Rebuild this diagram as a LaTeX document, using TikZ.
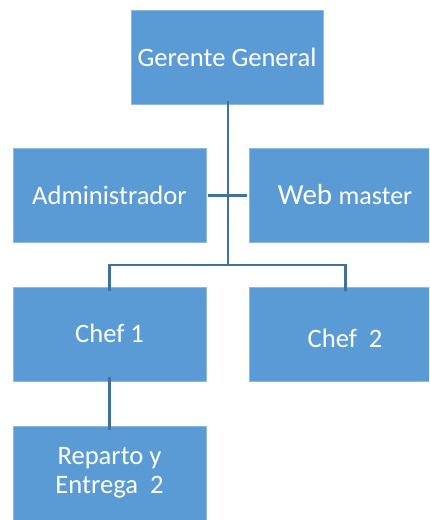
\documentclass[tikz,border=0pt]{standalone}
\usepackage{fontspec}
\setmainfont{Carlito}
\definecolor{boxfill}{HTML}{5B9BD5}
\definecolor{boxline}{HTML}{8FB9E3}
\definecolor{conn}{HTML}{41719C}
\tikzset{
  orgbox/.style={rectangle, fill=boxfill, draw=boxline, line width=0.6pt,
    minimum width=193pt, minimum height=94pt, inner sep=0pt, text=white,
    font=\fontsize{26.6}{29}\selectfont, align=center},
  boxtext/.style={text=white, inner sep=0pt, font=\fontsize{26.6}{29}\selectfont},
  link/.style={draw=conn, line width=2.8pt}
}
\begin{document}
\begin{tikzpicture}[x=1pt,y=-1pt]
\useasboundingbox (0,0) rectangle (429,520);
\clip (0,0) rectangle (429,520);
\node[orgbox, minimum width=192pt] (g) at (227,57) {Gerente General};
\node[orgbox] (a) at (109.5,195.5) {Administrador};
\node[orgbox] (w) at (345.5,195.5) {};
\node[boxtext] (wt) at (345,195) {\fontsize{29}{30}\selectfont Web \fontsize{26}{30}\selectfont master};
\node[orgbox] (c1) at (109.5,334) {};
\node[boxtext] (c1t) at (109.5,333) {Chef 1};
\node[orgbox] (c2) at (345.5,334) {};
\node[boxtext] (c2t) at (345,338) {Chef\ \ 2};
\node[orgbox] (r) at (109.5,473) {Reparto y\\Entrega\ \ 2};
\coordinate (j) at (228,265);
\draw[link] ([xshift=1pt,yshift=3pt]g.south) -- (j);
\draw[link] ([xshift=2pt]a.east) -- ([xshift=-2pt]w.west);
\draw[link] ([yshift=-4pt]c1.north) |- (j) -| ([yshift=-4pt]c2.north);
\draw[link] ([yshift=4pt]c1.south) -- ([yshift=-4pt]r.north);
\end{tikzpicture}
\end{document}
